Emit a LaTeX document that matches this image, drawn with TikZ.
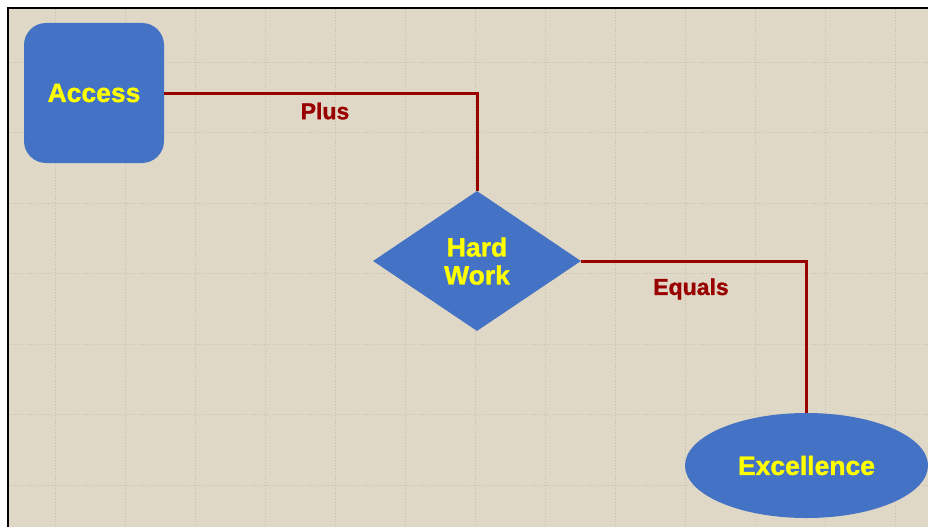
\documentclass[tikz,border=0pt]{standalone}
\usepackage{fontspec}
\setmainfont{Liberation Sans}
\newfontfamily\heavyfont[FakeBold=1.2]{Liberation Sans Bold}
\usetikzlibrary{shapes.geometric}
\definecolor{bgtan}{RGB}{224,216,198}
\definecolor{gridtan}{RGB}{200,191,172}
\definecolor{boxblue}{RGB}{68,114,196}
\definecolor{txtyellow}{RGB}{255,255,0}
\definecolor{linered}{RGB}{153,0,0}
\tikzset{
  shapebox/.style={fill=boxblue, draw=none, text=txtyellow, font=\heavyfont\fontsize{26.5}{28}\selectfont, align=center, inner sep=0pt},
  conn/.style={draw=linered, line width=3pt},
  lbl/.style={text=linered, font=\heavyfont\fontsize{23}{25}\selectfont, inner sep=0pt}
}
\begin{document}
\begin{tikzpicture}[x=1pt,y=-1pt]
\useasboundingbox (0,0) rectangle (928,527);
\fill[white] (0,0) rectangle (928,527);
\fill[bgtan] (8,8) rectangle (928,527);
\foreach \gx in {55,125,...,925} \draw[gridtan, dotted, line width=0.8pt] (\gx,9) -- (\gx,527);
\foreach \gy in {62,132.5,...,527} \draw[gridtan, dotted, line width=0.8pt] (9,\gy) -- (928,\gy);
\draw[black, line width=2pt] (8,527) -- (8,8) -- (928,8);
\node[shapebox, rectangle, rounded corners=22pt, minimum width=140pt, minimum height=140pt] (access) at (94,93) {Access};
\node[shapebox, diamond, minimum width=208pt, minimum height=140pt] (hw) at (477,261) {Hard\\Work};
\node[shapebox, ellipse, minimum width=243pt, minimum height=105pt] (exc) at (806.5,465.5) {Excellence};
\draw[conn] (access.east) -| (hw.north);
\draw[conn] (hw.east) -| (exc.north);
\node[lbl] (plus) at (325,111) {Plus};
\node[lbl] (equals) at (691,289) {Equals};
\end{tikzpicture}
\end{document}
